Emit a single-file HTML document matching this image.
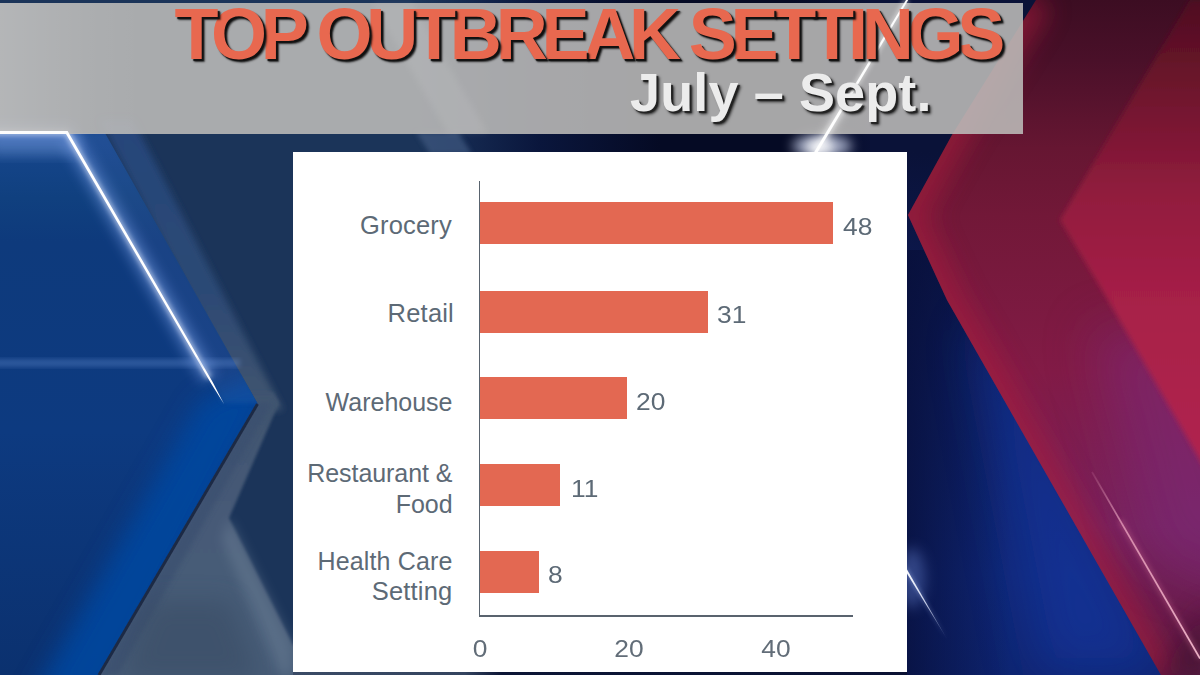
<!DOCTYPE html>
<html>
<head>
<meta charset="utf-8">
<title>Top Outbreak Settings</title>
<style>
html,body{margin:0;padding:0;}
body{width:1200px;height:675px;overflow:hidden;position:relative;background:#0b1742;font-family:"Liberation Sans",sans-serif;}
#bg{position:absolute;left:0;top:0;width:1200px;height:675px;}
#banner{position:absolute;left:0;top:3px;width:1022.5px;height:130.5px;background:linear-gradient(90deg,rgba(255,255,255,.13) 0,rgba(255,255,255,.03) 9%,rgba(255,255,255,0) 14%),rgba(187,186,184,0.885);}
#title{position:absolute;left:174.5px;top:-2.5px;white-space:nowrap;font-weight:bold;font-size:72px;line-height:72px;color:#e8684f;letter-spacing:-6.2px;text-shadow:2px 2px 1px #111,3px 3px 2px rgba(0,0,0,.7);}
#sub{position:absolute;left:630px;top:65px;letter-spacing:0.12px;white-space:nowrap;font-weight:bold;font-size:54px;line-height:54px;color:#ececec;text-shadow:2px 2px 1px #222,3px 3px 3px rgba(0,0,0,.7);}
#panel{position:absolute;left:293px;top:152.3px;width:613.6px;height:519.5px;background:#fff;}
.bar{position:absolute;left:480px;height:42px;background:#e36852;}
.lab{position:absolute;width:300px;text-align:right;color:#5d6a76;font-size:25.5px;letter-spacing:.2px;line-height:31px;white-space:nowrap;}
.val{position:absolute;color:#5d6a76;font-size:24px;line-height:30px;white-space:nowrap;transform:scaleX(1.1);transform-origin:0 0;}
.tick{position:absolute;color:#626d78;font-size:24px;line-height:30px;width:60px;text-align:center;transform:scaleX(1.1);}
.ax{position:absolute;background:#59636e;}
#title span{position:relative;}
</style>
</head>
<body>
<svg id="bg" viewBox="0 0 1200 675">
  <defs>
    <linearGradient id="gMid" x1="0" y1="0" x2="1200" y2="0" gradientUnits="userSpaceOnUse">
      <stop offset="0" stop-color="#1b3459"/>
      <stop offset="0.35" stop-color="#1b3459"/>
      <stop offset="0.39" stop-color="#14284f"/>
      <stop offset="0.45" stop-color="#0a163c"/>
      <stop offset="0.55" stop-color="#050a24"/>
      <stop offset="0.66" stop-color="#050a24"/>
      <stop offset="0.74" stop-color="#0a1238"/>
      <stop offset="1" stop-color="#0a1238"/>
    </linearGradient>
    <linearGradient id="gBlue" x1="0" y1="133" x2="0" y2="675" gradientUnits="userSpaceOnUse">
      <stop offset="0" stop-color="#17478f"/>
      <stop offset="0.12" stop-color="#10407f"/>
      <stop offset="0.2" stop-color="#0e3a7c"/>
      <stop offset="0.55" stop-color="#0d3a80"/>
      <stop offset="1" stop-color="#0b316f"/>
    </linearGradient>
    <linearGradient id="gStrip" x1="200" y1="500" x2="150" y2="470" gradientUnits="userSpaceOnUse">
      <stop offset="0" stop-color="#1a55cc" stop-opacity="1"/>
      <stop offset="0.7" stop-color="#1a55cc" stop-opacity=".8"/>
      <stop offset="1" stop-color="#1a55cc" stop-opacity="0"/>
    </linearGradient>
    <linearGradient id="gBevelUp" x1="150" y1="210" x2="176" y2="195" gradientUnits="userSpaceOnUse">
      <stop offset="0" stop-color="#2e548c"/>
      <stop offset="1" stop-color="#1f406e"/>
    </linearGradient>
    <linearGradient id="gGray" x1="0" y1="126" x2="0" y2="680" gradientUnits="userSpaceOnUse">
      <stop offset="0" stop-color="#25457a"/>
      <stop offset="0.3" stop-color="#2c4974"/>
      <stop offset="0.5" stop-color="#40546f"/>
      <stop offset="0.7" stop-color="#465a77"/>
      <stop offset="1" stop-color="#475b77"/>
    </linearGradient>
    <linearGradient id="gRightNavy" x1="0" y1="0" x2="0" y2="675" gradientUnits="userSpaceOnUse">
      <stop offset="0" stop-color="#0a1238"/>
      <stop offset="0.225" stop-color="#0a1238"/>
      <stop offset="0.38" stop-color="#0c174a"/>
      <stop offset="0.6" stop-color="#0e2064"/>
      <stop offset="0.85" stop-color="#0f2675"/>
      <stop offset="1" stop-color="#0e2470"/>
    </linearGradient>
    <linearGradient id="gOuter" x1="0" y1="0" x2="0" y2="675" gradientUnits="userSpaceOnUse">
      <stop offset="0" stop-color="#3c0d22"/>
      <stop offset="0.09" stop-color="#4a1029"/>
      <stop offset="0.22" stop-color="#661632"/>
      <stop offset="0.32" stop-color="#721838"/>
      <stop offset="0.55" stop-color="#821b46"/>
      <stop offset="0.78" stop-color="#78225c"/>
      <stop offset="0.9" stop-color="#6a1c4c"/>
      <stop offset="1" stop-color="#581a42"/>
    </linearGradient>
    <linearGradient id="gInner" x1="0" y1="0" x2="0" y2="460" gradientUnits="userSpaceOnUse">
      <stop offset="0" stop-color="#4e0f22"/>
      <stop offset="0.13" stop-color="#641228"/>
      <stop offset="0.43" stop-color="#921c3e"/>
      <stop offset="0.67" stop-color="#a82048"/>
      <stop offset="1" stop-color="#b0244f"/>
    </linearGradient>
    <linearGradient id="gDarkL" x1="900" y1="0" x2="1010" y2="0" gradientUnits="userSpaceOnUse">
      <stop offset="0" stop-color="#070e38" stop-opacity=".8"/>
      <stop offset="0.3" stop-color="#070e38" stop-opacity=".55"/>
      <stop offset="1" stop-color="#070e38" stop-opacity="0"/>
    </linearGradient>
    <linearGradient id="gStreak" x1="905" y1="568" x2="947" y2="639" gradientUnits="userSpaceOnUse">
      <stop offset="0" stop-color="#fff" stop-opacity="1"/>
      <stop offset="0.5" stop-color="#e6ecff" stop-opacity=".85"/>
      <stop offset="1" stop-color="#c0ccf4" stop-opacity=".15"/>
    </linearGradient>
    <filter id="b6u" filterUnits="userSpaceOnUse" x="860" y="500" width="140" height="180"><feGaussianBlur stdDeviation="7"/></filter>
    <filter id="b2u" filterUnits="userSpaceOnUse" x="860" y="500" width="140" height="180"><feGaussianBlur stdDeviation="2"/></filter>
    <linearGradient id="gPink" x1="1092" y1="472" x2="1200" y2="658" gradientUnits="userSpaceOnUse">
      <stop offset="0" stop-color="#e89ab8" stop-opacity=".15"/>
      <stop offset="0.3" stop-color="#f0b0c8" stop-opacity=".75"/>
      <stop offset="1" stop-color="#f8c8d8" stop-opacity=".95"/>
    </linearGradient>
    <linearGradient id="gBot" x1="293" y1="0" x2="907" y2="0" gradientUnits="userSpaceOnUse">
      <stop offset="0" stop-color="#3a4b66"/>
      <stop offset="0.28" stop-color="#34445f"/>
      <stop offset="0.34" stop-color="#0c1535"/>
      <stop offset="1" stop-color="#0a1233"/>
    </linearGradient>
    <filter id="b03" x="-20%" y="-20%" width="140%" height="140%"><feGaussianBlur stdDeviation="0.35"/></filter>
    <filter id="b15" x="-20%" y="-20%" width="140%" height="140%"><feGaussianBlur stdDeviation="1.6"/></filter>
    <filter id="b05" x="-20%" y="-20%" width="140%" height="140%"><feGaussianBlur stdDeviation="0.6"/></filter>
    <filter id="b1" x="-20%" y="-20%" width="140%" height="140%"><feGaussianBlur stdDeviation="1"/></filter>
    <filter id="b2" x="-20%" y="-20%" width="140%" height="140%"><feGaussianBlur stdDeviation="2.5"/></filter>
    <filter id="b4" x="-20%" y="-20%" width="140%" height="140%"><feGaussianBlur stdDeviation="3.5"/></filter>
    <filter id="b6" x="-30%" y="-30%" width="160%" height="160%"><feGaussianBlur stdDeviation="6"/></filter>
    <filter id="b25" filterUnits="userSpaceOnUse" x="800" y="100" width="600" height="700"><feGaussianBlur stdDeviation="25"/></filter>
    <filter id="b12" x="-50%" y="-50%" width="200%" height="200%"><feGaussianBlur stdDeviation="12"/></filter>
  </defs>
  <!-- base -->
  <rect x="0" y="0" width="1200" height="675" fill="#0a1238"/>
  <rect x="0" y="0" width="1200" height="675" fill="url(#gMid)"/>
  <rect x="870" y="0" width="330" height="675" fill="url(#gRightNavy)"/>
  <!-- LEFT: bevel + gray region (single shape) -->
  <polygon points="100,120 133,120 283,410 250,410" fill="url(#gGray)" filter="url(#b4)"/>
  <polygon points="240,392 273,392 279,403 229,518 293,645 300,645 300,680 90,680 250,403" fill="url(#gGray)" filter="url(#b15)"/>
  <polygon points="258,403 272,403 118,675 100,675" fill="#3a4f70" opacity=".7" filter="url(#b2)"/>
  <polygon points="229,518 293,645 293,675 280,675 222,540" fill="#6e8299" opacity=".45" filter="url(#b6)"/>
  <polygon points="150,600 230,600 260,680 120,680" fill="#36475f" opacity=".45" filter="url(#b12)"/>
  <!-- bright blue -->
  <clipPath id="cBlue"><polygon points="0,133 105,133 257.5,403.5 98.5,675 0,675"/></clipPath>
  <polygon points="0,133 105,133 257.5,403.5 98.5,675 0,675" fill="url(#gBlue)"/>
  <g clip-path="url(#cBlue)">
    <polygon points="290,360 110,700 30,700 200,400" fill="#02479f" opacity=".9" filter="url(#b12)"/>
    <polygon points="66.7,133 110,133 262,403 222,403" fill="#6f8fc8" opacity=".12" filter="url(#b2)"/>
    <rect x="-10" y="134" width="90" height="22" fill="#8fb0ee" opacity=".35" filter="url(#b6)"/>
  </g>
  <!-- dark edge line -->
  <line x1="257.5" y1="404" x2="99" y2="675" stroke="#1f2a44" stroke-width="3" filter="url(#b05)"/>
  <!-- white line glow + core -->
  <polyline points="-20,132.5 66.7,132.5 209,378" fill="none" stroke="#7aa0e8" stroke-opacity=".45" stroke-width="18" filter="url(#b6)"/>
  <polyline points="-20,132.5 66.7,132.5 209,378" fill="none" stroke="#dfe9ff" stroke-opacity=".6" stroke-width="6" filter="url(#b2)"/>
  <polygon points="-20,131 67.6,131 212.9,382.4 224,404 211.1,383.6 66,134 -20,134" fill="#fff" filter="url(#b03)"/>
  <rect x="900" y="250" width="110" height="425" fill="url(#gDarkL)"/>
  <!-- blue lift in right navy -->
  <polygon points="975,330 1010,330 1170,675 1040,675" fill="#1438a4" opacity=".6" filter="url(#b25)"/>
  <!-- RIGHT: outer chevron -->
  <clipPath id="cOuter"><polygon points="1036,0 952,135 908,215 947,300 1161,675 1200,675 1200,0"/></clipPath>
  <polygon points="1036,0 952,135 908,215 947,300 1161,675 1200,675 1200,0" fill="url(#gOuter)"/>
  <g clip-path="url(#cOuter)">
    <!-- edge highlight -->
    <polyline points="1036,0 952,135 908,215 947,300 1161,675" fill="none" stroke="#a81e3c" stroke-width="34" opacity=".6" filter="url(#b12)"/>
    <!-- purple band parallel to lower edge -->
    <polygon points="1090,330 1200,330 1300,620 1150,560" fill="#7a2c7a" opacity=".55" filter="url(#b25)"/>
    <polygon points="1160,675 1210,675 1210,600" fill="#3a0f2c" opacity=".5" filter="url(#b12)"/>
  </g>
  <!-- inner chevron -->
  <polygon points="1190,0 1060,220 1108,300 1210,478 1210,0" fill="url(#gInner)" filter="url(#b2)"/>
  <!-- faint horizontal streak -->
  <rect x="-10" y="359" width="250" height="8" fill="#7fa6e8" opacity=".28" filter="url(#b2)"/>
  <!-- right streaks -->
  <line x1="1092" y1="472" x2="1200" y2="658.5" stroke="url(#gPink)" stroke-width="1.7"/>
  <line x1="1120" y1="520" x2="1200" y2="658.5" stroke="#e07aa0" stroke-width="5" opacity=".3" filter="url(#b2)"/>
  <ellipse cx="912" cy="578" rx="13" ry="30" fill="#6f8ee0" opacity=".4" filter="url(#b6u)"/>
  <polygon points="905,564.5 905,571.5 947,639" fill="#9fb4ec" opacity=".5" filter="url(#b2u)"/>
  <polygon points="905,566 905,570.2 947,639" fill="url(#gStreak)"/>
  <!-- white diagonal over banner region (below-banner part) -->
  <polygon points="416,132 458,132 472,154 430,154" fill="#3c577e" opacity=".75" filter="url(#b2)"/>
  <ellipse cx="822" cy="146" rx="30" ry="12" fill="#c8d0e8" opacity=".75" style="filter:blur(6px)"/>
  <ellipse cx="820" cy="147" rx="14" ry="9" fill="#fff" opacity=".75" style="filter:blur(5px)"/>
  <!-- bottom strip -->
  <rect x="293" y="671" width="614" height="4" fill="url(#gBot)"/>
</svg>
<div id="banner"></div>
<svg id="fg" viewBox="0 0 1200 675" style="position:absolute;left:0;top:0;width:1200px;height:675px;pointer-events:none">
  <polygon points="372,3 412,3 488,133.5 448,133.5" fill="#fff" opacity=".07" style="filter:blur(3px)"/>
  <polygon points="0,131 67.6,131 69.4,134 0,134" fill="#fff" opacity=".95"/>
  <line x1="853" y1="90" x2="817" y2="150" stroke="#fff" stroke-width="9" opacity=".35" style="filter:blur(4px)"/>
  <line x1="907" y1="0" x2="816" y2="152" stroke="#fff" stroke-width="6" opacity=".4" style="filter:blur(2px)"/>
  <polygon points="906,0 908.2,0 817.8,152 814.2,152" fill="#fff" opacity=".97"/>
</svg>
<div id="title"><span style="z-index:30">T</span><span style="z-index:29">O</span><span style="z-index:28">P</span><span style="z-index:27">&nbsp;</span><span style="z-index:26">O</span><span style="z-index:25">U</span><span style="z-index:24">T</span><span style="z-index:23">B</span><span style="z-index:22">R</span><span style="z-index:21">E</span><span style="z-index:20">A</span><span style="z-index:19">K</span><span style="z-index:18">&nbsp;</span><span style="z-index:17">S</span><span style="z-index:16">E</span><span style="z-index:15">T</span><span style="z-index:14">T</span><span style="z-index:13">I</span><span style="z-index:12">N</span><span style="z-index:11">G</span><span style="z-index:10">S</span></div>
<div id="sub">July – Sept.</div>
<div id="panel"></div>
<div class="ax" style="left:478.5px;top:181px;width:1.6px;height:435.5px"></div>
<div class="ax" style="left:478.5px;top:615px;width:374px;height:1.6px"></div>
<div class="bar" style="top:201.7px;width:353px"></div>
<div class="bar" style="top:290.5px;width:227.5px"></div>
<div class="bar" style="top:377px;width:146.5px"></div>
<div class="bar" style="top:464px;width:79.5px"></div>
<div class="bar" style="top:550.5px;width:58.5px"></div>
<div class="lab" style="left:152px;top:210px">Grocery</div>
<div class="lab" style="left:154px;top:298px">Retail</div>
<div class="lab" style="left:152.5px;top:387px;font-size:25px;letter-spacing:0">Warehouse</div>
<div class="lab" style="left:152.5px;top:458px;font-size:25px;letter-spacing:-.05px;line-height:30.5px">Restaurant &amp;<br>Food</div>
<div class="lab" style="left:152.5px;top:545.5px;font-size:25px;letter-spacing:.15px;line-height:30.5px">Health Care<br><span style="font-size:25.5px;letter-spacing:.2px">Setting</span></div>
<div class="val" style="left:842.5px;top:211.5px">48</div>
<div class="val" style="left:717px;top:300px">31</div>
<div class="val" style="left:636px;top:386.5px">20</div>
<div class="val" style="left:570.5px;top:474px">11</div>
<div class="val" style="left:548px;top:560px">8</div>
<div class="tick" style="left:450px;top:633.5px">0</div>
<div class="tick" style="left:598.5px;top:633.5px">20</div>
<div class="tick" style="left:746px;top:633.5px">40</div>
</body>
</html>
